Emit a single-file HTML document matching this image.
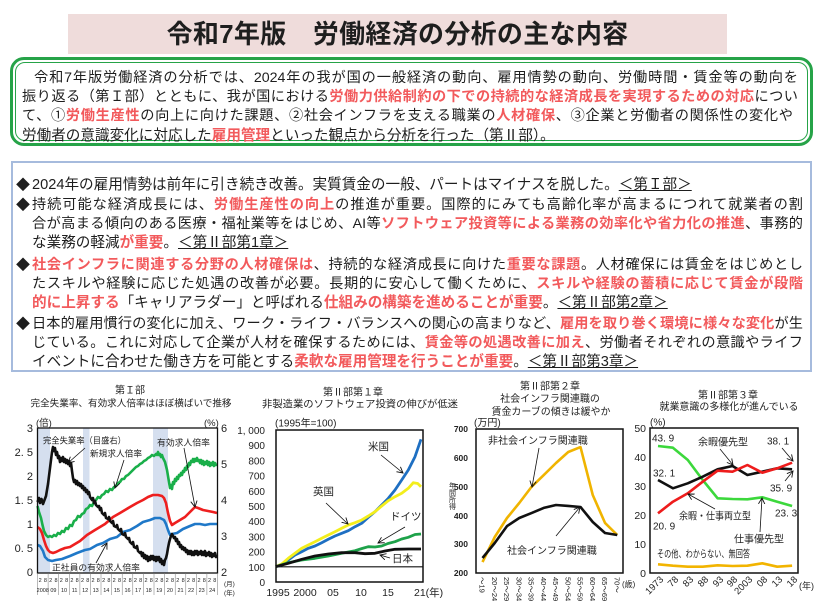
<!DOCTYPE html>
<html lang="ja">
<head>
<meta charset="utf-8">
<style>
  html,body{margin:0;padding:0;}
  body{width:823px;height:613px;overflow:hidden;background:#fff;position:relative;
       font-family:"Liberation Sans","Noto Sans CJK JP",sans-serif;color:#1e1e1e;}
  .title{position:absolute;left:68px;top:14px;width:659px;height:40px;background:#efdcdb;
         text-align:center;line-height:40px;font-size:26px;font-weight:bold;color:#1e1e1e;letter-spacing:0.3px;}
  .gout{position:absolute;left:10px;top:57px;width:803px;height:89px;box-sizing:border-box;
        border:3px solid #26a348;border-radius:14px;}
  .gin{position:absolute;left:15px;top:62px;width:793px;height:79px;box-sizing:border-box;
       border:1.5px solid #26a348;border-radius:10px;}
  .bbox{position:absolute;left:11px;top:161px;width:801px;height:211px;box-sizing:border-box;
        border:2px solid #a6bbdd;}
  .ln{position:absolute;height:19px;line-height:19px;font-size:14.6px;white-space:nowrap;}
  .j{white-space:normal;text-align:justify;text-align-last:justify;overflow:visible;font-size:14.2px;}
  .r{color:#f25a5c;font-weight:bold;}
  .u{text-decoration:underline;}
  .dm{position:absolute;left:16px;height:19px;line-height:19px;font-size:14px;}
  svg{position:absolute;left:0;top:0;}
  svg text{font-family:"Liberation Sans","Noto Sans CJK JP",sans-serif;fill:#222;}
</style>
</head>
<body>
<div class="title">令和7年版&emsp;労働経済の分析の主な内容</div>

<div class="gout"></div>
<div class="gin"></div>
<div class="ln j" style="left:34px;top:68.5px;width:764px;">令和7年版労働経済の分析では、2024年の我が国の一般経済の動向、雇用情勢の動向、労働時間・賃金等の動向を</div>
<div class="ln j" style="left:22px;top:87.5px;width:776px;">振り返る（第Ｉ部）とともに、我が国における<span class="r">労働力供給制約の下での持続的な経済成長を実現するための対応</span>につい</div>
<div class="ln j" style="left:22px;top:107px;width:771px;">て、①<span class="r">労働生産性</span>の向上に向けた課題、②社会インフラを支える職業の<span class="r">人材確保</span>、③企業と労働者の関係性の変化や</div>
<div class="ln" style="left:22px;top:126.5px;">労働者の意識変化に対応した<span class="r">雇用管理</span>といった観点から分析を行った（第Ⅱ部）。</div>

<div class="bbox"></div>
<div class="dm" style="top:175.5px;">◆</div>
<div class="ln" style="left:32px;top:175.5px;">2024年の雇用情勢は前年に引き続き改善。実質賃金の一般、パートはマイナスを脱した。<span class="u">＜第Ｉ部＞</span></div>
<div class="dm" style="top:195.5px;">◆</div>
<div class="ln j" style="left:32px;top:195.5px;width:771px;">持続可能な経済成長には、<span class="r">労働生産性の向上</span>の推進が重要。国際的にみても高齢化率が高まるにつれて就業者の割</div>
<div class="ln j" style="left:32px;top:214.5px;width:771px;">合が高まる傾向のある医療・福祉業等をはじめ、AI等<span class="r">ソフトウェア投資等による業務の効率化や省力化の推進</span>、事務的</div>
<div class="ln" style="left:32px;top:233.5px;">な業務の軽減<span class="r">が重要</span>。<span class="u">＜第Ⅱ部第1章＞</span></div>
<div class="dm" style="top:255.5px;">◆</div>
<div class="ln j" style="left:32px;top:255.5px;width:771px;"><span class="r">社会インフラに関連する分野の人材確保は</span>、持続的な経済成長に向けた<span class="r">重要な課題</span>。人材確保には賃金をはじめとし</div>
<div class="ln j" style="left:32px;top:274.5px;width:771px;">たスキルや経験に応じた処遇の改善が必要。長期的に安心して働くために、<span class="r">スキルや経験の蓄積に応じて賃金が段階</span></div>
<div class="ln" style="left:32px;top:293.5px;"><span class="r">的に上昇する</span>「キャリアラダー」と呼ばれる<span class="r">仕組みの構築を進めることが重要</span>。<span class="u">＜第Ⅱ部第2章＞</span></div>
<div class="dm" style="top:315px;">◆</div>
<div class="ln j" style="left:32px;top:315px;width:771px;">日本的雇用慣行の変化に加え、ワーク・ライフ・バランスへの関心の高まりなど、<span class="r">雇用を取り巻く環境に様々な変化</span>が生</div>
<div class="ln j" style="left:32px;top:334px;width:771px;">じている。これに対応して企業が人材を確保するためには、<span class="r">賃金等の処遇改善に加え</span>、労働者それぞれの意識やライフ</div>
<div class="ln" style="left:32px;top:353px;">イベントに合わせた働き方を可能とする<span class="r">柔軟な雇用管理を行うことが重要</span>。<span class="u">＜第Ⅱ部第3章＞</span></div>

<svg width="823" height="613" viewBox="0 0 823 613" xmlns="http://www.w3.org/2000/svg">
  <defs>
    <marker id="ah" markerUnits="userSpaceOnUse" markerWidth="8" markerHeight="8" refX="6" refY="4" orient="auto">
      <path d="M0,0.8 L6,4 L0,7.2" fill="none" stroke="#111" stroke-width="0.9"/>
    </marker>
  </defs>

  <!-- ================= Chart 1 ================= -->
  <text x="130" y="393.5" font-size="10" text-anchor="middle">第Ｉ部</text>
  <text x="131" y="406.5" font-size="9.6" text-anchor="middle" textLength="201" lengthAdjust="spacingAndGlyphs">完全失業率、有効求人倍率はほぼ横ばいで推移</text>
  <text x="36" y="426" font-size="9.5">(倍)</text>
  <text x="204" y="426" font-size="9.5">(%)</text>
  <rect x="37.5" y="428" width="12.5" height="145" fill="#d5dfef"/>
  <rect x="83" y="428" width="6.5" height="145" fill="#d5dfef"/>
  <rect x="153" y="428" width="15" height="145" fill="#d5dfef"/>
  <g font-size="11" text-anchor="end">
    <text x="33" y="432">3</text><text x="33" y="456">2. 5</text><text x="33" y="480">2</text>
    <text x="33" y="504">1. 5</text><text x="33" y="528">1</text><text x="33" y="552">0. 5</text><text x="33" y="576">0</text>
  </g>
  <g font-size="11">
    <text x="221" y="432">6</text><text x="221" y="468">5</text><text x="221" y="504">4</text>
    <text x="221" y="540">3</text><text x="221" y="576">2</text>
  </g>
  <polyline fill="none" stroke="#1aaf4a" stroke-width="2.6" stroke-linejoin="round" points="37.5,506 39,512 41,518 42.5,525 44,531 46,535 48,537 50,536 52,537 54,535 56,536 58,533 60,534 62,531 64,532 66,528 68,529 70,525 72,526 74,521 76,520 78,516 80,517 82,514 84,513 86,509 88,508 90,505 92,506 94,502 96,500 98,497 100,498 102,495 104,494 106,491 108,492 110,489 112,490 114,487 116,486 118,483 120,482 122,479 124,479 126,476 128,475 130,473 132,471 134,469 136,467 138,466 140,464 142,463 144,461 146,460 148,458 150,457 152,455 154,456 156,454 157,455 158,452 159,455 160,454 161,457 162,455 163,458 164,460 165,462 166,466 167,470 168,476 169,482 170,488 171,485 172,489 173,482 174,484 175,479 176,481 177,477 178,479 179,475 180,476 181,473 182,475 183,471 184,472 185,468 186,470 187,466 188,467 189,463 190,465 191,461 192,462 193,459 194,462 195,459 196,461 197,458 198,461 199,460 200,463 201,460 202,464 203,461 204,465 205,462 206,464 207,461 208,465 209,462 210,466 211,463 212,465 213,462 214,466 215,463 216,465 217,464"/>
  <polyline fill="none" stroke="#ee1f1f" stroke-width="2.6" stroke-linejoin="round" points="37.5,527 40,529 42,533 44,540 46,546 48,550 50,552 53,553 56,552 60,550 65,548 70,547 75,544 80,541 87,535 95,530 100,527 105,524 113,517 120,513 125,510 130,507 137,503 143,500 148,497 153,495 158,495 162,496 164,498 166,503 168,513 170,521 172,525 175,523 180,520 185,517 190,512 195,507 198,508 203,510 208,511 213,512 217,513"/>
  <polyline fill="none" stroke="#1f78c8" stroke-width="2.6" stroke-linejoin="round" points="37.5,545 40,546 43,551 45,557 48,560 52,561 56,560 62,559 70,556 77,553 85,550 90,549 97,545 103,543 110,539 117,537 123,532 130,530 137,526 143,522 150,520 155,518 160,518 164,520 166,524 168,530 170,535 172,534 177,533 183,529 190,526 195,524 200,524 205,525 210,524 217,524"/>
  <polyline fill="none" stroke="#111" stroke-width="2.6" stroke-linejoin="round" points="37.5,502 39,498 40,503 41.5,499 43,504 44.5,500 46,496 47,490 48,484 49,476 50,468 51,460 52,452 53,447 54,451 55,448 56,455 57,452 58,458 59,456 60,462 61,458 62,461 63,457 64,462 65,459 66,463 67,460 68,464 69,461 70,466 71,463 72,471 73,478 74,482 75,480 76,484 77,481 78,485 79,483 80,486 81,484 82,488 83,486 84,490 85,488 86,492 87,490 88,494 89,492 90,497 92,500 93,498 94,503 95,501 96,505 98,507 99,506 100,510 101,508 102,513 104,515 105,513 106,518 108,519 109,517 110,521 112,523 113,521 114,526 116,527 117,525 118,529 120,531 121,529 122,534 124,535 125,533 126,537 128,539 129,538 130,542 132,544 133,542 134,547 136,548 137,546 138,551 140,553 141,552 142,556 143,553 144,558 145,555 146,559 147,556 148,561 149,557 150,560 151,556 152,559 153,556 154,560 155,557 156,561 157,557 158,560 159,557 160,562 161,559 162,564 163,561 164,565 165,560 166,558 167,554 168,548 169,543 170,539 171,536 172,534 173,536 174,538 175,537 176,541 177,539 178,544 179,542 180,547 181,545 182,549 183,547 184,550 185,548 186,552 187,550 188,554 189,551 190,554 191,551 192,555 193,552 194,555 195,551 196,554 197,551 198,555 199,552 200,554 201,551 202,555 203,552 204,555 205,551 206,556 207,553 208,555 209,552 210,556 211,553 212,557 213,554 214,556 215,553 216,557 217,555"/>
  <rect x="37.5" y="428" width="180" height="145" fill="none" stroke="#111" stroke-width="1.3"/>
  <g font-size="8.8">
    <text x="43" y="443.5" textLength="83" lengthAdjust="spacingAndGlyphs">完全失業率（目盛右）</text>
    <text x="90" y="456.5" textLength="52" lengthAdjust="spacingAndGlyphs">新規求人倍率</text>
    <text x="157" y="445.5" textLength="53" lengthAdjust="spacingAndGlyphs">有効求人倍率</text>
    <text x="52" y="570.5" textLength="88" lengthAdjust="spacingAndGlyphs">正社員の有効求人倍率</text>
  </g>
  <g stroke="#111" stroke-width="0.8" fill="none" marker-end="url(#ah)">
    <line x1="85" y1="448" x2="68" y2="463"/>
    <line x1="124" y1="460" x2="115" y2="488"/>
    <line x1="184" y1="448" x2="195" y2="507"/>
    <line x1="96" y1="563" x2="107" y2="543"/>
  </g>
  <g stroke="#777" stroke-width="0.5">
    <line x1="37.5" y1="573" x2="37.5" y2="595"/><line x1="48.1" y1="573" x2="48.1" y2="595"/>
    <line x1="58.7" y1="573" x2="58.7" y2="595"/><line x1="69.3" y1="573" x2="69.3" y2="595"/>
    <line x1="79.9" y1="573" x2="79.9" y2="595"/><line x1="90.4" y1="573" x2="90.4" y2="595"/>
    <line x1="101" y1="573" x2="101" y2="595"/><line x1="111.6" y1="573" x2="111.6" y2="595"/>
    <line x1="122.2" y1="573" x2="122.2" y2="595"/><line x1="132.8" y1="573" x2="132.8" y2="595"/>
    <line x1="143.4" y1="573" x2="143.4" y2="595"/><line x1="154" y1="573" x2="154" y2="595"/>
    <line x1="164.6" y1="573" x2="164.6" y2="595"/><line x1="175.2" y1="573" x2="175.2" y2="595"/>
    <line x1="185.8" y1="573" x2="185.8" y2="595"/><line x1="196.4" y1="573" x2="196.4" y2="595"/>
    <line x1="206.9" y1="573" x2="206.9" y2="595"/><line x1="217.5" y1="573" x2="217.5" y2="595"/>
  </g>
  <text y="582" font-size="5.5" text-anchor="middle" x="40.1 45.4 50.7 56 61.3 66.6 71.9 77.2 82.5 87.8 93 98.3 103.6 108.9 114.2 119.5 124.8 130.1 135.4 140.7 146 151.3 156.6 161.9 167.2 172.5 177.8 183.1 188.4 193.7 199 204.3 209.5 214.8">2828282828282828282828282828282828</text>
  <g font-size="5.5" text-anchor="middle">
    <text x="42.8" y="592">2008</text><text x="53.4" y="592">09</text><text x="64" y="592">10</text>
    <text x="74.6" y="592">11</text><text x="85.2" y="592">12</text><text x="95.7" y="592">13</text>
    <text x="106.3" y="592">14</text><text x="116.9" y="592">15</text><text x="127.5" y="592">16</text>
    <text x="138.1" y="592">17</text><text x="148.7" y="592">18</text><text x="159.3" y="592">19</text>
    <text x="169.9" y="592">20</text><text x="180.5" y="592">21</text><text x="191.1" y="592">22</text>
    <text x="201.7" y="592">23</text><text x="212.2" y="592">24</text>
  </g>
  <text x="224" y="586" font-size="6.5">(月)</text>
  <text x="224" y="595" font-size="6.5">(年)</text>

  <!-- ================= Chart 2 ================= -->
  <text x="353" y="395.5" font-size="10" text-anchor="middle">第Ⅱ部第１章</text>
  <text x="360" y="407.5" font-size="10" text-anchor="middle" textLength="196" lengthAdjust="spacingAndGlyphs">非製造業のソフトウェア投資の伸びが低迷</text>
  <text x="275" y="426.5" font-size="10">(1995年=100)</text>
  <g font-size="10" text-anchor="end">
    <text x="265" y="434">1, 000</text><text x="265" y="449.2">900</text><text x="265" y="464.4">800</text>
    <text x="265" y="479.6">700</text><text x="265" y="494.8">600</text><text x="265" y="510">500</text>
    <text x="265" y="525.2">400</text><text x="265" y="540.4">300</text><text x="265" y="555.6">200</text>
    <text x="265" y="570.8">100</text><text x="265" y="586">0</text>
  </g>
  <line x1="276" y1="566.8" x2="423" y2="566.8" stroke="#111" stroke-width="1.2"/>
  <polyline fill="none" stroke="#1e6fc2" stroke-width="2.8" stroke-linejoin="round" points="275.7,566.7 281.7,565 288.3,560 295,555 301.7,551.7 308.3,548.3 315,546 321.7,542.7 328.3,539.3 335,536 341.7,533.3 348.3,530.7 355,526.7 361.7,523.3 368.3,517.3 375,511.7 381.7,505 388.3,498.3 395,490 401.7,480 408.3,470 415,456.7 421,439.3"/>
  <polyline fill="none" stroke="#f3ee1c" stroke-width="2.8" stroke-linejoin="round" points="275.7,566.7 281.7,564 288.3,558.3 295,553.3 301.7,548.3 308.3,545 315,541.7 321.7,538.3 328.3,535 335,531.7 341.7,528.3 348.3,525 355,522.7 361.7,520 368.3,516 375,511.7 381.7,506 388.3,500.7 395,496.7 401.7,493.3 408.3,488.3 413.3,482.7 417.7,483.5 421,486.7"/>
  <polyline fill="none" stroke="#1ea24a" stroke-width="2.8" stroke-linejoin="round" points="275.7,566.7 288.3,562.7 301.7,560 315,558.3 328.3,556 341.7,553.3 355,550.7 362,548.5 368.3,546.7 375,547 381.7,546 388,543.5 395,541.7 401.7,539 408.3,537.3 415,534.5 421,534"/>
  <polyline fill="none" stroke="#111" stroke-width="2.8" stroke-linejoin="round" points="275.7,566.7 288.3,563.3 301.7,559.3 315,556 328.3,554 341.7,552.7 355,552.7 365,553.7 375,553.3 385,551 395,549.3 408.3,549 421,549"/>
  <rect x="276" y="430" width="147" height="152" fill="none" stroke="#111" stroke-width="1.5"/>
  <g font-size="10.5">
    <text x="368" y="450">米国</text>
    <text x="313" y="495">英国</text>
    <text x="390" y="520">ドイツ</text>
    <text x="392" y="562">日本</text>
  </g>
  <g stroke="#111" stroke-width="0.8" fill="none" marker-end="url(#ah)">
    <line x1="381" y1="455" x2="403" y2="473"/>
    <line x1="326" y1="503" x2="348" y2="524"/>
    <line x1="405" y1="527" x2="378" y2="543"/>
    <line x1="390" y1="558" x2="380" y2="555"/>
  </g>
  <g font-size="10.5" text-anchor="middle">
    <text x="278" y="596">1995</text><text x="305" y="596">2000</text><text x="333" y="596">05</text>
    <text x="361" y="596">10</text><text x="388" y="596">15</text>
  </g>
  <text x="414" y="596" font-size="10.5">21(年)</text>

  <!-- ================= Chart 3 ================= -->
  <text x="550" y="389.5" font-size="10" text-anchor="middle">第Ⅱ部第２章</text>
  <text x="550" y="402" font-size="10" text-anchor="middle">社会インフラ関連職の</text>
  <text x="551" y="415" font-size="10" text-anchor="middle" textLength="119" lengthAdjust="spacingAndGlyphs">賃金カーブの傾きは緩やか</text>
  <text x="474" y="426" font-size="10">(万円)</text>
  <g font-size="8.5" font-weight="bold" text-anchor="end">
    <text x="468" y="432">700</text><text x="468" y="461">600</text><text x="468" y="490">500</text>
    <text x="468" y="519">400</text><text x="468" y="547">300</text><text x="468" y="576">200</text>
  </g>
  <text x="452" y="482" font-size="7" style="writing-mode:tb;">年間所得</text>
  <polyline fill="none" stroke="#f0b400" stroke-width="2.6" stroke-linejoin="round" points="482.5,562.1 494.75,537 507,518 519.25,503 531.5,486.9 543.75,475.1 556,463 568.25,452 580.5,447.1 592.75,495 605,522.9 617.25,535"/>
  <polyline fill="none" stroke="#111" stroke-width="2.6" stroke-linejoin="round" points="482.5,558 494.75,543 507,526.1 519.25,518 531.5,513.1 543.75,507.9 556,505 568.25,505.9 580.5,507 592.75,522 605,533 617.25,535"/>
  <rect x="476" y="429" width="147" height="144" fill="none" stroke="#111" stroke-width="1.5"/>
  <g font-size="10">
    <text x="488" y="444">非社会インフラ関連職</text>
    <text x="507" y="554">社会インフラ関連職</text>
  </g>
  <g stroke="#111" stroke-width="0.8" fill="none" marker-end="url(#ah)">
    <line x1="539" y1="448" x2="532" y2="487"/>
    <line x1="556" y1="536" x2="580" y2="507"/>
  </g>
  <g font-size="7.5">
    <text transform="translate(479.5,577) rotate(90)">～19</text>
    <text transform="translate(491.75,577) rotate(90)">20～24</text>
    <text transform="translate(504,577) rotate(90)">25～29</text>
    <text transform="translate(516.25,577) rotate(90)">30～34</text>
    <text transform="translate(528.5,577) rotate(90)">35～39</text>
    <text transform="translate(540.75,577) rotate(90)">40～44</text>
    <text transform="translate(553,577) rotate(90)">45～49</text>
    <text transform="translate(565.25,577) rotate(90)">50～54</text>
    <text transform="translate(577.5,577) rotate(90)">55～59</text>
    <text transform="translate(589.75,577) rotate(90)">60～64</text>
    <text transform="translate(602,577) rotate(90)">65～69</text>
    <text transform="translate(614.25,577) rotate(90)">70～</text>
  </g>
  <text x="622" y="587" font-size="8">(歳)</text>

  <!-- ================= Chart 4 ================= -->
  <text x="728" y="398.5" font-size="10" text-anchor="middle">第Ⅱ部第３章</text>
  <text x="729" y="410" font-size="10" text-anchor="middle" textLength="139" lengthAdjust="spacingAndGlyphs">就業意識の多様化が進んでいる</text>
  <text x="650" y="425.5" font-size="10">(%)</text>
  <g font-size="10.5" text-anchor="end">
    <text x="646" y="432">50</text><text x="646" y="461">40</text><text x="646" y="490">30</text>
    <text x="646" y="519">20</text><text x="646" y="548">10</text><text x="646" y="577">0</text>
  </g>
  <polyline fill="none" stroke="#3cd83c" stroke-width="2.6" stroke-linejoin="round" points="658,446 672.9,447.7 687.8,460 702.7,480 717.6,498.3 732.5,499 747.4,499.3 762.3,497.3 777.2,501.7 792.1,506"/>
  <polyline fill="none" stroke="#111" stroke-width="2.6" stroke-linejoin="round" points="658,480 672.9,488.3 687.8,483.3 702.7,476.7 717.6,469.3 732.5,466 747.4,475 762.3,471.7 777.2,468.3 792.1,469.3"/>
  <polyline fill="none" stroke="#ee1c1c" stroke-width="2.6" stroke-linejoin="round" points="658,513.3 672.9,501.7 687.8,493.3 702.7,481.7 717.6,470.7 732.5,471.7 747.4,465 762.3,472.7 777.2,468.3 792.1,462.7"/>
  <polyline fill="none" stroke="#f2b400" stroke-width="2.6" stroke-linejoin="round" points="658,564.3 672.9,565.7 687.8,566.7 702.7,566.7 717.6,565.3 732.5,566 747.4,565.7 762.3,563.3 777.2,566.7 792.1,565.7"/>
  <rect x="650" y="428" width="148" height="145" fill="none" stroke="#111" stroke-width="1.5"/>
  <g font-size="10">
    <text x="652" y="441.5">43. 9</text>
    <text x="653" y="476.5">32. 1</text>
    <text x="653" y="529.5">20. 9</text>
    <text x="698" y="445.5">余暇優先型</text>
    <text x="767" y="444.5">38. 1</text>
    <text x="770" y="491.5">35. 9</text>
    <text x="679" y="519.5" textLength="72" lengthAdjust="spacingAndGlyphs">余暇・仕事両立型</text>
    <text x="775" y="516.5">23. 3</text>
    <text x="734" y="542.5">仕事優先型</text>
    <text x="657" y="557.5" textLength="93" lengthAdjust="spacingAndGlyphs">その他、わからない、無回答</text>
  </g>
  <g stroke="#111" stroke-width="0.8" fill="none" marker-end="url(#ah)">
    <line x1="720" y1="449" x2="733" y2="465"/>
    <line x1="782" y1="448" x2="793" y2="461"/>
    <line x1="785" y1="481" x2="793" y2="471"/>
    <line x1="715" y1="509" x2="688" y2="494"/>
    <line x1="760" y1="532" x2="762" y2="498"/>
  </g>
  <g font-size="9.5" text-anchor="end">
    <text transform="translate(664,580) rotate(-45)">1973</text>
    <text transform="translate(679,580) rotate(-45)">78</text>
    <text transform="translate(694,580) rotate(-45)">83</text>
    <text transform="translate(709,580) rotate(-45)">88</text>
    <text transform="translate(724,580) rotate(-45)">93</text>
    <text transform="translate(738,580) rotate(-45)">98</text>
    <text transform="translate(753,580) rotate(-45)">2003</text>
    <text transform="translate(768,580) rotate(-45)">08</text>
    <text transform="translate(783,580) rotate(-45)">13</text>
    <text transform="translate(798,580) rotate(-45)">18</text>
  </g>
  <text x="799" y="589" font-size="9">(年)</text>
</svg>
</body>
</html>
